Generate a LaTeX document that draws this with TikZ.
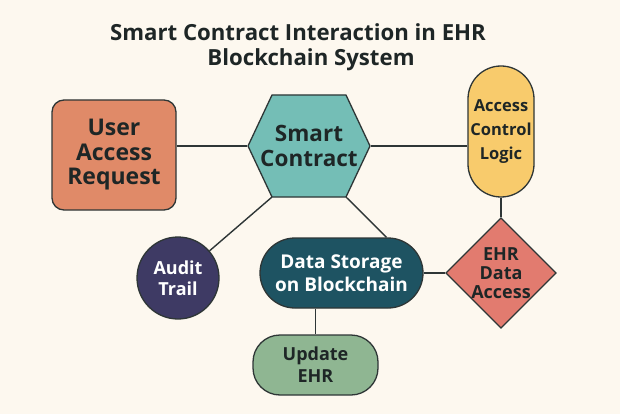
\documentclass[tikz,border=0pt]{standalone}
\usepackage{fontspec}
\setmainfont{Open Sans}
\usetikzlibrary{shapes.geometric,calc}
\definecolor{bgc}{HTML}{FDF8EF}
\definecolor{userc}{HTML}{E08A68}
\definecolor{hexc}{HTML}{74BEB6}
\definecolor{aclc}{HTML}{F8CB6C}
\definecolor{diac}{HTML}{E27B6F}
\definecolor{audc}{HTML}{3E3A64}
\definecolor{dsc}{HTML}{1E5362}
\definecolor{updc}{HTML}{8FB692}
\definecolor{linec}{HTML}{2E3636}
\definecolor{textc}{HTML}{1E2626}
\tikzset{
  box/.style={draw=linec, line width=1.3pt, text=textc, align=center, inner sep=0pt, font=\bfseries},
  conn/.style={draw=linec, line width=1.4pt},
  hexnode/.style={rectangle, inner sep=0pt, minimum width=124pt, minimum height=104pt, text=textc, align=center, font=\bfseries,
    path picture={\filldraw[fill=hexc, draw=linec, line width=1.3pt]
      ([xshift=1pt]path picture bounding box.west)
      -- ([xshift=25pt,yshift=-1pt]path picture bounding box.north west)
      -- ([xshift=-25pt,yshift=-1pt]path picture bounding box.north east)
      -- ([xshift=-1pt]path picture bounding box.east)
      -- ([xshift=-25pt,yshift=1pt]path picture bounding box.south east)
      -- ([xshift=25pt,yshift=1pt]path picture bounding box.south west) -- cycle;}},
  titlestyle/.style={text=textc, font=\fontsize{22.2}{26}\selectfont\bfseries, inner sep=0pt}
}
\begin{document}
\begin{tikzpicture}[x=1pt,y=-1pt]
\fill[bgc] (0,0) rectangle (620,414);
\useasboundingbox (0,0) rectangle (620,414);
\node[titlestyle] (t1) at (298,32) {Smart Contract Interaction in EHR};
\node[titlestyle] (t2) at (311,60) {Blockchain System};
% nodes
\node[box, fill=userc, rectangle, rounded corners=12pt, minimum width=124pt, minimum height=110pt,
  font=\fontsize{23}{24.5}\selectfont\bfseries] (user) at (114,155) {User\\Access\\Request};
\node[hexnode, font=\fontsize{22.5}{25}\selectfont\bfseries] (sc) at (309,146) {Smart\\Contract};
\node[box, fill=aclc, rectangle, rounded corners=33pt, minimum width=66pt, minimum height=131pt,
  font=\fontsize{16.5}{24}\selectfont\bfseries] (acl) at (501,131.5) {Access\\Control\\Logic};
\node[box, fill=diac, diamond, minimum width=110pt, minimum height=110pt,
  font=\fontsize{18}{19}\selectfont\bfseries] (dia) at (501,273) {EHR\\Data\\Access};
\node[box, fill=audc, circle, minimum size=82pt, text=white,
  font=\fontsize{18}{21}\selectfont\bfseries] (aud) at (178,278) {Audit\\Trail};
\node[box, fill=dsc, rectangle, rounded corners=35pt, minimum width=163pt, minimum height=70pt, text=white,
  font=\fontsize{19}{23}\selectfont\bfseries] (ds) at (341.5,273) {Data Storage\\on Blockchain};
\node[box, fill=updc, rectangle, rounded corners=27pt, minimum width=125pt, minimum height=60pt,
  font=\fontsize{18}{22}\selectfont\bfseries] (upd) at (315.5,365) {Update\\EHR};
% hexagon lower vertices
\coordinate (scBL) at ([xshift=25pt,yshift=1pt]sc.south west);
\coordinate (scBR) at ([xshift=-25pt,yshift=1pt]sc.south east);
% connectors
\draw[conn] (sc.west -| user.east) -- (sc.west);
\draw[conn] (sc.east) -- (sc.east -| acl.west);
\draw[conn] (acl.south) -- (dia.north);
\draw[conn] (scBL) -- (aud);
\draw[conn] (scBR) -- ([xshift=45pt]ds.north);
\draw[conn] (ds.east) -- (dia.west);
\draw[conn] (ds.south -| upd.north) -- (upd.north);
\end{tikzpicture}
\end{document}
